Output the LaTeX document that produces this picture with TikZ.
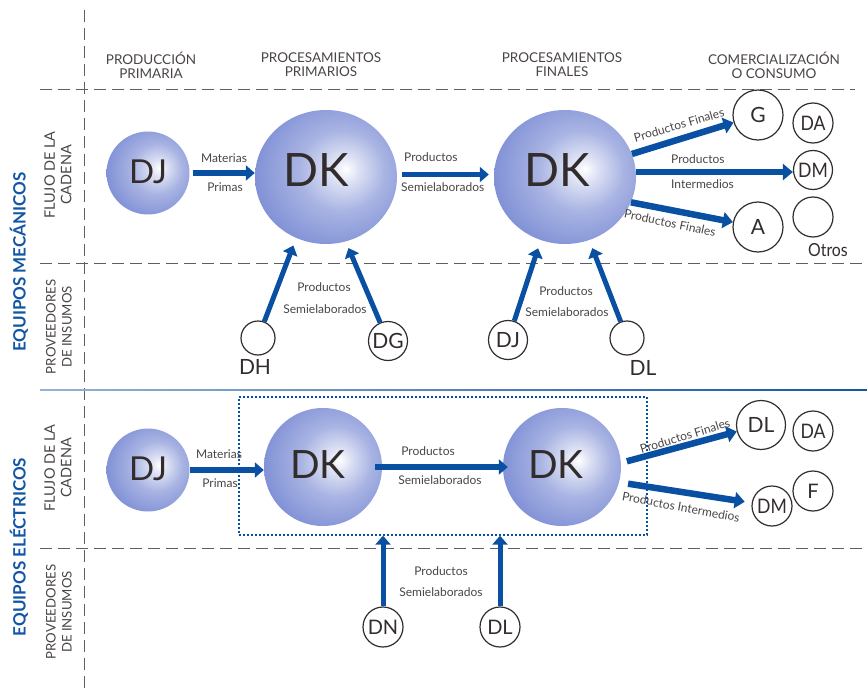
\documentclass[tikz,border=0pt]{standalone}
\usepackage{fontspec}
\setmainfont{Lato}
\usetikzlibrary{arrows.meta,shapes.geometric}

\definecolor{sph}{RGB}{68,92,194}
\definecolor{sphrim}{RGB}{66,86,180}
\definecolor{flow}{RGB}{10,80,162}
\definecolor{txt}{RGB}{74,68,70}
\definecolor{ink}{RGB}{50,44,45}
\definecolor{rule}{RGB}{95,95,95}
\definecolor{eqblue}{RGB}{18,86,164}

% sphere body: bright spot to the right of centre, darker crescent at the lower left
\pgfdeclareradialshading{orb}{\pgfpoint{7bp}{3bp}}{%
  color(0bp)=(white);
  color(5bp)=(sph!18);
  color(15bp)=(sph!46);
  color(27bp)=(sph!64);
  color(38bp)=(sph!79);
  color(46bp)=(sph!90);
  color(47bp)=(sphrim);
  color(70bp)=(sphrim)}

\tikzset{
  orb/.style={ellipse, inner sep=0pt, shading=orb, draw=none},
  orbtext/.style={text=ink, inner sep=0pt},
  disc/.style={circle, draw=ink, line width=1.2pt, fill=white, inner sep=0pt,
               text=ink, font=\fontsize{21}{21}\selectfont},
  flowarrow/.style={draw=flow, line width=5.5pt, -{Triangle[length=9pt,width=15pt]}},
  widearrow/.style={draw=flow, line width=6.5pt, -{Triangle[length=10pt,width=16pt]}},
  lbl/.style={text=txt, font=\fontsize{12}{12}\selectfont, inner sep=0pt},
  colhead/.style={text=txt, font=\fontsize{13.5}{14}\selectfont, align=center, inner sep=0pt},
  rowhead/.style={text=txt, font=\fontsize{14.5}{16.5}\selectfont, align=center, rotate=90, inner sep=0pt},
  supphead/.style={rowhead, font=\fontsize{13.2}{16}\selectfont},
  sectlabel/.style={text=eqblue, font=\bfseries\fontsize{17}{17}\selectfont, rotate=90, inner sep=0pt},
  guide/.style={draw=rule, line width=1pt, dash pattern=on 12pt off 6pt},
  squeeze/.style={font=\fontsize{20}{20}\selectfont},
}

\newcommand\narrow[1]{\scalebox{0.88}[1]{#1}}

\begin{document}
\begin{tikzpicture}[x=1pt,y=-1pt]
\useasboundingbox (0,0) rectangle (867,690);

% ---------- grid ----------
\draw[guide] (84,10) -- (84,690);
\draw[guide] (40,90) -- (855,90);
\draw[guide] (40,263) -- (867,263);
\draw[guide] (40,548) -- (867,548);
\shade[left color=eqblue!45, right color=eqblue] (40,389.4) rectangle (867,390.6);

% ---------- column headings ----------
\node[colhead] (h1) at (151,65) {PRODUCCIÓN\\PRIMARIA};
\node[colhead] (h2) at (321,65) {PROCESAMIENTOS\\PRIMARIOS};
\node[colhead] (h3) at (562,65) {PROCESAMIENTOS\\FINALES};
\node[colhead] (h4) at (774,65) {COMERCIALIZACIÓN\\O CONSUMO};

% ---------- row headings ----------
\node[rowhead] (r1) at (58,175) {FLUJO DE LA\\CADENA};
\node[supphead] (r2) at (59,327) {PROVEEDORES\\DE INSUMOS};
\node[rowhead] (r3) at (58,468) {FLUJO DE LA\\CADENA};
\node[supphead] (r4) at (59,612) {PROVEEDORES\\DE INSUMOS};
\node[sectlabel] (s1) at (19,262) {EQUIPOS MECÁNICOS};
\node[sectlabel] (s2) at (19,547) {EQUIPOS ELÉCTRICOS};

% ================= EQUIPOS MECÁNICOS =================
\node[orb, minimum width=83pt, minimum height=83pt] (dja) at (148,173) {};
\node[orbtext, font=\fontsize{33}{33}\selectfont] (dja-t) at (148,172) {DJ};
\node[orb, minimum width=142pt, minimum height=134pt] (dk1a) at (326,177) {};
\node[orbtext, font=\fontsize{46}{46}\selectfont] (dk1a-t) at (316,170) {DK};
\node[orb, minimum width=142pt, minimum height=134pt] (dk2a) at (565,177) {};
\node[orbtext, font=\fontsize{46}{46}\selectfont] (dk2a-t) at (557,170) {DK};

% consumers
\node[disc, minimum size=50pt] (g) at (758,115) {G};
\node[disc, minimum size=40pt, squeeze] (da1) at (813,123) {\narrow{DA}};
\node[disc, minimum size=39pt, squeeze] (dm1) at (813,170) {\narrow{DM}};
\node[disc, minimum size=50pt] (a) at (758,227) {A};
\node[disc, minimum size=40pt] (otros) at (813,217) {};
\node[text=ink, inner sep=0pt, font=\fontsize{18}{18}\selectfont] (otros-t) at (828,250) {\narrow{Otros}};

% suppliers
\node[disc, minimum size=34pt] (dh) at (258,338) {};
\node[text=ink, inner sep=0pt, font=\fontsize{21}{21}\selectfont] (dh-t) at (255,367) {DH};
\node[disc, minimum size=39pt] (dg) at (388,341) {DG};
\node[disc, minimum size=39pt] (djs) at (508,340) {DJ};
\node[disc, minimum size=34pt] (dls) at (627,338) {};
\node[text=ink, inner sep=0pt, font=\fontsize{21}{21}\selectfont] (dls-t) at (643,368) {DL};

% flows
\draw[flowarrow, shorten <=3pt] (dja.east) -- (dja.east -| dk1a.west);
\draw[flowarrow, shorten <=5pt, shorten >=5pt] (dk1a.2) -- (dk1a.2 -| dk2a.west);
\draw[widearrow] (dk2a.19) -- (g);
\draw[widearrow] (dk2a.4) -- (dk2a.4 -| dm1.west);
\draw[widearrow] (dk2a.-21) -- (a);
\draw[flowarrow, line width=5pt, shorten >=8pt] (dh) -- (dk1a.-116);
\draw[flowarrow, line width=5pt, shorten >=7pt] (dg) -- (dk1a.-73);
\draw[flowarrow, line width=5pt, shorten >=8.5pt] (djs) -- (dk2a.-111);
\draw[flowarrow, line width=5pt, shorten >=8.5pt] (dls) -- (dk2a.-69);

% flow labels
\node[lbl] (l1) at (224,158) {Materias};
\node[lbl] (l2) at (225,187) {Primas};
\node[lbl, anchor=west] (l3) at (404,157) {Productos};
\node[lbl, anchor=west] (l4) at (401,187) {Semielaborados};
\node[lbl, rotate=16] (l5) at (679,125) {Productos Finales};
\node[lbl, anchor=west] (l6) at (671,159) {Productos};
\node[lbl, anchor=west] (l7) at (671,184) {Intermedios};
\node[lbl, rotate=-12] (l8) at (670,223) {Productos Finales};
\node[lbl] (l9) at (324,287) {Productos};
\node[lbl] (l10) at (325,309) {Semielaborados};
\node[lbl] (l11) at (566,291) {Productos};
\node[lbl] (l12) at (567,312) {Semielaborados};

% ================= EQUIPOS ELÉCTRICOS =================
\node[draw=flow, line width=1.3pt, dash pattern=on 2pt off 2pt, inner sep=0pt,
      minimum width=408pt, minimum height=138pt] (cluster) at (443,466) {};

\node[orb, minimum width=83pt, minimum height=83pt] (djb) at (148,470) {};
\node[orbtext, font=\fontsize{33}{33}\selectfont] (djb-t) at (148,469) {DJ};
\node[orb, minimum width=118pt, minimum height=118pt] (dk1b) at (323,467) {};
\node[orbtext, font=\fontsize{39}{39}\selectfont] (dk1b-t) at (318,465) {DK};
\node[orb, minimum width=118pt, minimum height=118pt] (dk2b) at (562,467) {};
\node[orbtext, font=\fontsize{39}{39}\selectfont] (dk2b-t) at (556,465) {DK};

\node[disc, minimum size=49pt] (dlc) at (761,425) {DL};
\node[disc, minimum size=40pt, squeeze] (da2) at (813,431) {\narrow{DA}};
\node[disc, minimum size=40pt, squeeze] (f) at (813,491) {F};
\node[disc, minimum size=40pt, squeeze] (dmc) at (772,506) {\narrow{DM}};

\node[disc, minimum size=40pt, squeeze] (dn) at (383,627) {DN};
\node[disc, minimum size=40pt, squeeze] (dlb) at (500,627) {DL};

\draw[flowarrow] (djb.east) -- (djb.east -| dk1b.west);
\draw[flowarrow, shorten <=-7pt, shorten >=-5pt] (dk1b.east) -- (dk2b.west);
\draw[flowarrow, line width=5pt] (dn) -- (dn |- cluster.south);
\draw[flowarrow, line width=5pt] (dlb) -- (dlb |- cluster.south);
\draw[widearrow, shorten <=6pt] (dk2b.4) -- (dlc);
\draw[widearrow, shorten <=9pt, shorten >=7pt] (dk2b.-15) -- (dmc);

\node[lbl] (m1) at (219,454) {Materias};
\node[lbl] (m2) at (220,483) {Primas};
\node[lbl] (m3) at (428,451) {Productos};
\node[lbl] (m4) at (440,480) {Semielaborados};
\node[lbl] (m5) at (441,571) {Productos};
\node[lbl] (m6) at (441,592) {Semielaborados};
\node[lbl, rotate=17] (m7) at (685,436) {Productos Finales};
\node[lbl, rotate=-10.5] (m8) at (681,507) {Productos Intermedios};

\end{tikzpicture}
\end{document}
